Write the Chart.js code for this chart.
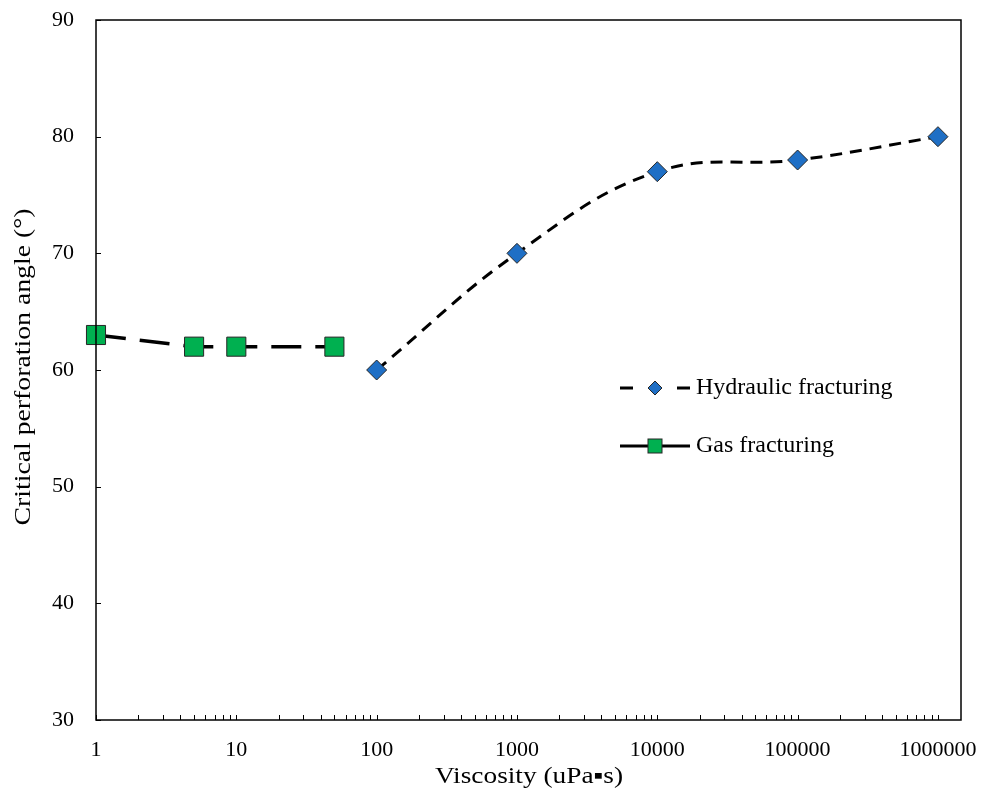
<!DOCTYPE html>
<html><head><meta charset="utf-8">
<script src="https://cdn.jsdelivr.net/npm/chart.js@4.4.1/dist/chart.umd.min.js"></script>
<style>html,body{margin:0;padding:0;background:#fff}#wrap{width:981px;height:794px;position:relative}</style>
</head><body><div id="wrap"><canvas id="c" width="981" height="794"></canvas></div>
<script>
const gasViscosity = [1, 5, 10, 50];
const gasAngle = [63, 62, 62, 62];
const hydViscosity = [100, 1000, 10000, 100000, 1000000];
const hydAngle = [60, 70, 77, 78, 80];
const xTickValues = [1, 10, 100, 1000, 10000, 100000, 1000000];
const yTickValues = [30, 40, 50, 60, 70, 80, 90];
const seriesNames = ['Hydraulic fracturing', 'Gas fracturing'];
const xTitle = 'Viscosity (uPa\u25AAs)';
const yTitle = 'Critical perforation angle (\u00B0)';

const FONT = '"Liberation Serif", "Times New Roman", serif';
const GREEN = '#00B050', BLUE = '#1F6FC5', EDGE = '#262626';

function stretchedText(ctx, text, cx, cy, rot, targetWidth, size) {
  ctx.save();
  ctx.font = size + 'px ' + FONT;
  const w = ctx.measureText(text).width;
  ctx.translate(cx, cy);
  ctx.rotate(rot);
  ctx.scale(targetWidth / w, 1);
  ctx.textAlign = 'center'; ctx.textBaseline = 'middle'; ctx.fillStyle = '#000';
  ctx.fillText(text, 0, 0);
  ctx.restore();
}

const framePlugin = {
  id: 'frame',
  afterDraw(chart) {
    const {ctx, chartArea: a, scales: {x, y}} = chart;
    ctx.save();
    ctx.strokeStyle = '#000'; ctx.lineWidth = 1.5;
    ctx.strokeRect(a.left, a.top, a.right - a.left, a.bottom - a.top);
    ctx.lineWidth = 1;
    ctx.beginPath();
    yTickValues.forEach(v => { const py = Math.round(y.getPixelForValue(v)) + 0.5; ctx.moveTo(a.left, py); ctx.lineTo(a.left + 5, py); });
    for (let d = 0; d <= 6; d++) {
      for (let m = 1; m <= 9; m++) {
        const v = m * Math.pow(10, d);
        if (v > x.max) break;
        const px = Math.round(x.getPixelForValue(v)) + 0.5;
        ctx.moveTo(px, a.bottom); ctx.lineTo(px, a.bottom - 5);
      }
    }
    ctx.stroke();
    // tick labels
    ctx.fillStyle = '#000'; ctx.font = '22px ' + FONT;
    ctx.textAlign = 'right'; ctx.textBaseline = 'middle';
    yTickValues.forEach(v => ctx.fillText(String(v), 74, y.getPixelForValue(v)));
    ctx.textAlign = 'center'; ctx.textBaseline = 'alphabetic';
    xTickValues.forEach(v => ctx.fillText(String(v), x.getPixelForValue(v), 756));
    // legend
    const lx0 = 620, lx1 = 690, lxc = 655;
    const y1 = 388, y2 = 446;
    ctx.strokeStyle = '#000'; ctx.lineWidth = 3;
    ctx.beginPath();
    ctx.moveTo(lx0, y1); ctx.lineTo(lx0 + 13, y1);
    ctx.moveTo(lx1 - 13, y1); ctx.lineTo(lx1, y1);
    ctx.moveTo(lx0, y2); ctx.lineTo(lx1, y2);
    ctx.stroke();
    ctx.lineWidth = 1; ctx.strokeStyle = EDGE;
    ctx.fillStyle = BLUE;
    ctx.beginPath();
    ctx.moveTo(lxc, y1 - 7); ctx.lineTo(lxc + 7, y1); ctx.lineTo(lxc, y1 + 7); ctx.lineTo(lxc - 7, y1); ctx.closePath();
    ctx.fill(); ctx.stroke();
    ctx.fillStyle = GREEN;
    ctx.fillRect(lxc - 7, y2 - 7, 14, 14); ctx.strokeRect(lxc - 7, y2 - 7, 14, 14);
    ctx.fillStyle = '#000'; ctx.font = '24px ' + FONT; ctx.textBaseline = 'middle'; ctx.textAlign = 'left';
    ctx.fillText(seriesNames[0], 696, y1);
    ctx.fillText(seriesNames[1], 696, y2);
    ctx.restore();
    // axis titles
    stretchedText(ctx, xTitle, 529, 777, 0, 188, 23);
    stretchedText(ctx, yTitle, 24, 367, -Math.PI / 2, 317, 23);
  }
};

new Chart(document.getElementById('c'), {
  type: 'line',
  data: {
    datasets: [
      {
        label: seriesNames[0],
        data: hydViscosity.map((v, i) => ({x: v, y: hydAngle[i]})),
        borderColor: '#000', borderWidth: 3, borderDash: [12, 8], tension: 0.4,
        pointStyle: 'rectRot', pointRadius: 10, pointBackgroundColor: BLUE,
        pointBorderColor: EDGE, pointBorderWidth: 1, order: 1, clip: false
      },
      {
        label: seriesNames[1],
        data: gasViscosity.map((v, i) => ({x: v, y: gasAngle[i]})),
        borderColor: '#000', borderWidth: 3.5, borderDash: [30, 14], tension: 0,
        pointStyle: 'rect', pointRadius: 13.5, pointBackgroundColor: GREEN,
        pointBorderColor: EDGE, pointBorderWidth: 1, order: 2, clip: false
      }
    ]
  },
  options: {
    responsive: false, animation: false,
    layout: {padding: {left: 0, top: 20, right: 20, bottom: 0}},
    plugins: {legend: {display: false}, tooltip: {enabled: false}},
    scales: {
      x: {
        type: 'logarithmic', min: 1, max: 1460000,
        afterBuildTicks: s => { s.ticks = xTickValues.map(v => ({value: v, major: true})); },
        afterFit: s => { s.height = 74; },
        grid: {display: false}, border: {display: false},
        ticks: {display: false},
        title: {display: false}
      },
      y: {
        min: 30, max: 90,
        afterBuildTicks: s => { s.ticks = yTickValues.map(v => ({value: v})); },
        afterFit: s => { s.width = 96; },
        grid: {display: false}, border: {display: false},
        ticks: {display: false},
        title: {display: false}
      }
    }
  },
  plugins: [framePlugin]
});
</script></body></html>
